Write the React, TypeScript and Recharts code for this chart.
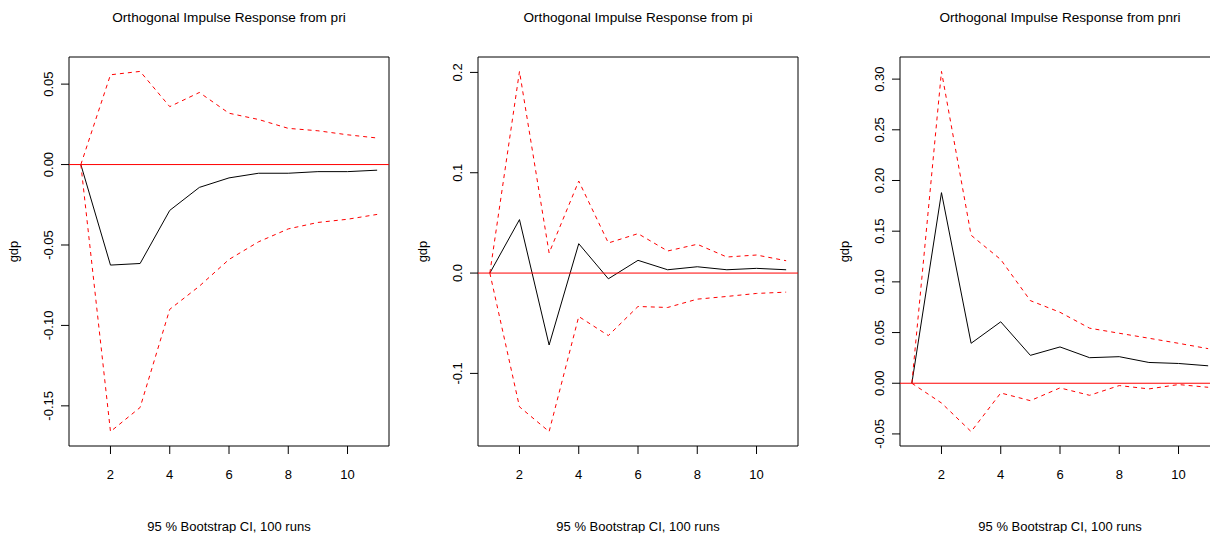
import { LineChart, Line, XAxis, YAxis, ReferenceLine, ReferenceArea } from "recharts";

const STEPS = [1, 2, 3, 4, 5, 6, 7, 8, 9, 10, 11];
const X_TICKS = [2, 4, 6, 8, 10];

// response of gdp to pri
const PRI_IRF = [0, -0.0625, -0.0615, -0.0285, -0.0142, -0.0083, -0.0054, -0.0054, -0.0044, -0.0044, -0.0035];
const PRI_UPPER = [0, 0.0558, 0.0579, 0.036, 0.0448, 0.0319, 0.028, 0.0225, 0.021, 0.0185, 0.0165];
const PRI_LOWER = [0, -0.166, -0.151, -0.09, -0.0756, -0.059, -0.048, -0.04, -0.036, -0.034, -0.031];
const PRI_TICKS = [-0.15, -0.1, -0.05, 0, 0.05];

// response of gdp to pi
const PI_IRF = [0, 0.0533, -0.0717, 0.0293, -0.0057, 0.0127, 0.0033, 0.0063, 0.0033, 0.0047, 0.0033];
const PI_UPPER = [0, 0.201, 0.02, 0.0917, 0.03, 0.0393, 0.022, 0.0287, 0.016, 0.018, 0.0123];
const PI_LOWER = [0, -0.1333, -0.158, -0.0433, -0.0623, -0.0333, -0.0343, -0.026, -0.0233, -0.0203, -0.019];
const PI_TICKS = [-0.1, 0, 0.1, 0.2];

// response of gdp to pnri
const PNRI_IRF = [0, 0.188, 0.0394, 0.0606, 0.0275, 0.0358, 0.0252, 0.0262, 0.0205, 0.0195, 0.0172];
const PNRI_UPPER = [0, 0.3076, 0.146, 0.122, 0.0815, 0.07, 0.0543, 0.0493, 0.0444, 0.0394, 0.0341];
const PNRI_LOWER = [0, -0.0195, -0.0477, -0.0096, -0.0172, -0.0046, -0.0119, -0.0023, -0.0056, -0.0013, -0.004];
const PNRI_TICKS = [-0.05, 0, 0.05, 0.1, 0.15, 0.2, 0.25, 0.3];

const FONT = "'Liberation Sans', Arial, Helvetica, sans-serif";
const W = 403;
const H = 533;
const X_DOMAIN = [0.6, 11.4];

// R style range: data range plus 4% on each side
function padRange(series: number[][]) {
  const all = series.flat();
  const lo = Math.min(...all);
  const hi = Math.max(...all);
  const p = (hi - lo) * 0.04;
  return [lo - p, hi + p];
}

function YTick(props: any) {
  const { x, y, payload, digits } = props;
  return (
    <text
      x={x}
      y={y}
      transform={`rotate(-90, ${x}, ${y})`}
      textAnchor="middle"
      fontSize={13}
      fontFamily={FONT}
      fill="#000"
    >
      {Number(payload.value).toFixed(digits)}
    </text>
  );
}

function IrfPanel({ left, irf, upper, lower, ticks, digits }: any) {
  const data = STEPS.map((s, i) => ({ step: s, irf: irf[i], upper: upper[i], lower: lower[i] }));
  const yDomain = padRange([irf, upper, lower]);
  return (
    <div style={{ position: "absolute", left, top: 0 }}>
      <LineChart width={W} height={H} data={data} margin={{ top: 57, right: 14, left: 9, bottom: 47 }}>
        <XAxis
          dataKey="step"
          type="number"
          domain={X_DOMAIN}
          ticks={X_TICKS}
          allowDataOverflow
          height={40}
          axisLine={false}
          tickSize={8}
          tickMargin={16}
          tickLine={{ stroke: "#000" }}
          tick={{ fontSize: 13, fill: "#000", fontFamily: FONT }}
        />
        <YAxis
          type="number"
          domain={yDomain}
          ticks={ticks}
          allowDataOverflow
          width={60}
          axisLine={false}
          tickSize={8}
          tickMargin={8}
          tickLine={{ stroke: "#000" }}
          tick={<YTick digits={digits} />}
        />
        <ReferenceArea
          x1={X_DOMAIN[0]}
          x2={X_DOMAIN[1]}
          y1={yDomain[0]}
          y2={yDomain[1]}
          fill="none"
          stroke="#000"
          strokeWidth={1}
        />
        <Line type="linear" dataKey="irf" stroke="#000" strokeWidth={1} dot={false} isAnimationActive={false} />
        <Line type="linear" dataKey="upper" stroke="#ff0000" strokeWidth={1} strokeDasharray="4 4" dot={false} isAnimationActive={false} />
        <Line type="linear" dataKey="lower" stroke="#ff0000" strokeWidth={1} strokeDasharray="4 4" dot={false} isAnimationActive={false} />
        <ReferenceLine y={0} stroke="#ff0000" strokeWidth={1} />
      </LineChart>
    </div>
  );
}

const PANELS = [
  { name: "pri", left: 0, irf: PRI_IRF, upper: PRI_UPPER, lower: PRI_LOWER, ticks: PRI_TICKS, digits: 2 },
  { name: "pi", left: 409, irf: PI_IRF, upper: PI_UPPER, lower: PI_LOWER, ticks: PI_TICKS, digits: 1 },
  { name: "pnri", left: 831, irf: PNRI_IRF, upper: PNRI_UPPER, lower: PNRI_LOWER, ticks: PNRI_TICKS, digits: 2 },
];

export default function App() {
  return (
    <div
      style={{
        position: "fixed",
        left: 0,
        top: 0,
        width: 1210,
        height: 533,
        overflow: "hidden",
        background: "#fff",
      }}
    >
      {PANELS.map((p) => (
        <IrfPanel key={p.name} {...p} />
      ))}
      <svg width={1210} height={533} style={{ position: "absolute", left: 0, top: 0, pointerEvents: "none" }}>
        {PANELS.map((p) => {
          const cx = p.left + 69 + 160;
          const gx = p.left + 69 - 51.5;
          return (
            <g key={p.name} fontFamily={FONT} fontSize={13} fill="#000" style={{ whiteSpace: "pre" }}>
              <text x={cx} y={21.5} textAnchor="middle" fontSize={13.6}>
                {`Orthogonal Impulse Response from ${p.name}`}
              </text>
              <text x={cx} y={530.5} textAnchor="middle">
                {"95 % Bootstrap CI,  100 runs"}
              </text>
              <text x={gx} y={251.5} textAnchor="middle" transform={`rotate(-90, ${gx}, 251.5)`}>
                gdp
              </text>
            </g>
          );
        })}
      </svg>
    </div>
  );
}
